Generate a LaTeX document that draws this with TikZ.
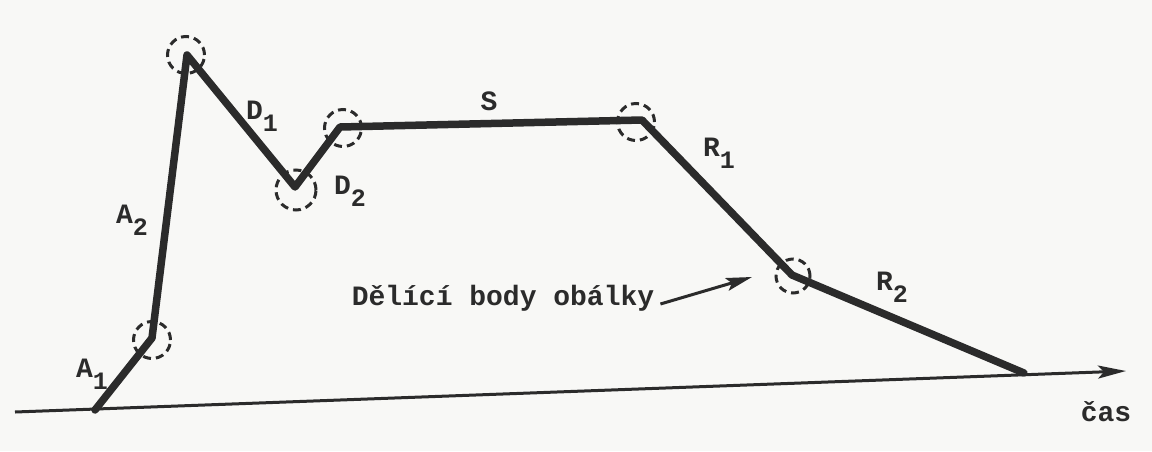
\documentclass[tikz,border=0pt]{standalone}
\usepackage{fontspec}
\setmonofont{Liberation Mono}
\usetikzlibrary{arrows.meta}
\definecolor{ink}{HTML}{2B2B2B}
\definecolor{paper}{HTML}{F8F8F6}
\newcommand{\sbx}[1]{\raisebox{-0.42em}{\fontsize{25}{25}\selectfont #1}}
\begin{document}
\begin{tikzpicture}[x=1pt,y=-1pt,
  envline/.style={draw=ink,line width=7.5pt,line join=round,line cap=round},
  axisline/.style={draw=ink,line width=3pt,-{Stealth[length=28pt,width=13pt,inset=6pt]}},
  ptmark/.style={draw=ink,line width=3pt,dash pattern=on 8pt off 5pt,circle,minimum size=37pt,inner sep=0pt},
  lbl/.style={text=ink,font=\ttfamily\bfseries\fontsize{28}{28}\selectfont,inner sep=0pt},
  ptr/.style={draw=ink,line width=3pt,-{Stealth[length=26pt,width=13pt,inset=5pt]}}]
\useasboundingbox[fill=paper] (0,0) rectangle (1152,451);
% envelope points
\coordinate (p0) at (95,410);
\coordinate (p1) at (152,338);
\coordinate (p2) at (187,55);
\coordinate (p3) at (295,187);
\coordinate (p4) at (340,127);
\coordinate (p5) at (642,120);
\coordinate (p6) at (792,275);
\coordinate (p7) at (1024,373);
% time axis
\coordinate (ax0) at (15,412);
\coordinate (ax1) at (1126,371);
\draw[axisline] (ax0) -- (ax1);
% envelope
\draw[envline] (p0) -- (p1) -- (p2) -- (p3) -- (p4) -- (p5) -- (p6) -- (p7);
% break points
\node[ptmark] (c1) at (152,340) {};
\node[ptmark] (c2) at (186,55) {};
\node[ptmark,minimum size=40pt] (c3) at (296,190) {};
\node[ptmark] (c4) at (343,128) {};
\node[ptmark] (c5) at (636,122) {};
\node[ptmark,minimum size=34pt] (c6) at (793,276) {};
% labels
\node[lbl] (la1) at (92,374) {A\sbx{1}};
\node[lbl] (la2) at (132,220) {A\sbx{2}};
\node[lbl] (ld1) at (262,116) {D\sbx{1}};
\node[lbl] (ld2) at (350,191) {D\sbx{2}};
\node[lbl] (ls) at (489,101) {S};
\node[lbl] (lr1) at (719,153) {R\sbx{1}};
\node[lbl] (lr2) at (892,287) {R\sbx{2}};
\node[lbl] (lcas) at (1106,412) {čas};
\node[lbl] (ldel) at (503,298) {Dělící body obálky};
\coordinate (tip) at (752,277);
\draw[ptr] ([xshift=6pt,yshift=-6pt]ldel.east) -- (tip);
\end{tikzpicture}
\end{document}
